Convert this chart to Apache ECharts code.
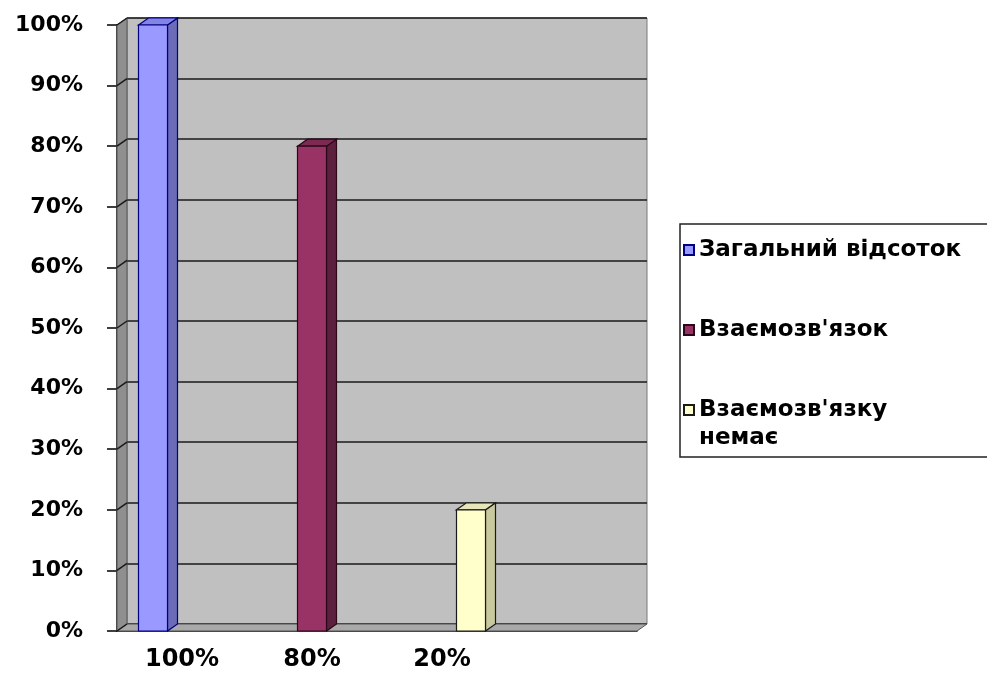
<!DOCTYPE html>
<html>
<head>
<meta charset="utf-8">
<script src="https://cdn.jsdelivr.net/npm/echarts@6/dist/echarts.min.js"></script>
<style>
  html, body { margin: 0; padding: 0; background: #fff; }
  #chart { width: 987px; height: 673px; }
</style>
</head>
<body>
<div id="chart"></div>
<script>
// data
const categories = ["100%", "80%", "20%", ""];
const yTicks = [0, 10, 20, 30, 40, 50, 60, 70, 80, 90, 100];
const seriesNames = ["Загальний відсоток", "Взаємозв'язок", "Взаємозв'язку немає"];
const totalPct = [100, null, null, null];
const linkedPct = [null, 80, null, null];
const notLinkedPct = [null, null, 20, null];

// excel-like 3d look
const DX = 10, DY = 7, BW = 29;
const looks = [
  { front: "#9999ff", side: "#6b6bb8", top: "#8484e6", line: "#000080" },
  { front: "#993366", side: "#5c1f3d", top: "#7d2a53", line: "#2a0818" },
  { front: "#ffffcc", side: "#c9c9a0", top: "#e6e6b8", line: "#1a1a1a" },
];
const FONT = "DejaVu Sans";

const chart = echarts.init(document.getElementById("chart"));

const toPoints = arr => arr.map((v, i) => [i, v]).filter(d => d[1] != null);

const bar3d = idx => (params, api) => {
  const cat = api.value(0);
  const val = api.value(1);
  const base = api.coord([cat, 0]);
  const top = api.coord([cat, val]);
  const cx = base[0] + (idx - 1) * BW;
  const x0 = cx - BW / 2, x1 = cx + BW / 2;
  const yT = top[1], yB = base[1];
  const c = looks[idx];
  const stroke = { stroke: c.line, lineWidth: 1.2 };
  return {
    type: "group",
    children: [
      { type: "polygon", shape: { points: [[x1, yT], [x1 + DX, yT - DY], [x1 + DX, yB - DY], [x1, yB]] },
        style: Object.assign({ fill: c.side }, stroke) },
      { type: "polygon", shape: { points: [[x0, yT], [x0 + DX, yT - DY], [x1 + DX, yT - DY], [x1, yT]] },
        style: Object.assign({ fill: c.top }, stroke) },
      { type: "rect", shape: { x: x0, y: yT, width: BW, height: yB - yT },
        style: Object.assign({ fill: c.front }, stroke) },
    ],
  };
};

const seriesData = [totalPct, linkedPct, notLinkedPct];

const legendText = { color: "#000", fontFamily: FONT, fontWeight: "bold", fontSize: 23, lineHeight: 28 };

const option = {
  animation: false,
  backgroundColor: "#fff",
  grid: [
    // back wall
    { left: 127, right: 340, top: 18, bottom: 49, show: true, backgroundColor: "#c0c0c0", borderColor: "#7a7a7a", borderWidth: 1 },
    // front plane with the axes
    { left: 117, right: 350, top: 25, bottom: 42 },
  ],
  xAxis: [
    { gridIndex: 0, type: "category", data: categories, show: false },
    {
      gridIndex: 1, type: "category", data: categories,
      axisLine: { lineStyle: { color: "#000", width: 1.5 } },
      axisTick: { length: 8, lineStyle: { color: "#000", width: 1.5 } },
      axisLabel: { color: "#000", fontFamily: FONT, fontWeight: "bold", fontSize: 24, margin: 17 },
    },
  ],
  yAxis: [
    {
      gridIndex: 0, type: "value", min: 0, max: 100, interval: 10,
      axisLine: { show: false }, axisTick: { show: false }, axisLabel: { show: false },
      splitLine: { lineStyle: { color: "#1a1a1a", width: 1.6 } },
    },
    {
      gridIndex: 1, type: "value", min: 0, max: 100, interval: 10,
      axisLine: { show: true, lineStyle: { color: "#000", width: 1.5 } },
      axisTick: { show: true, length: 10, lineStyle: { color: "#000", width: 1.5 } },
      axisLabel: { color: "#000", fontFamily: FONT, fontWeight: "bold", fontSize: 22, margin: 34, formatter: "{value}%" },
      splitLine: { show: false },
    },
  ],
  legend: [
    {
      orient: "vertical", left: 683, top: 236, padding: 0, itemGap: 52,
      itemWidth: 10, itemHeight: 10, icon: "rect",
      data: [seriesNames[0], seriesNames[1]],
      textStyle: legendText,
    },
    {
      orient: "vertical", left: 683, top: 368, padding: 0,
      itemWidth: 10, itemHeight: 10, icon: "rect",
      data: [seriesNames[2]],
      // blank first line keeps the icon next to the first line of text
      formatter: () => "\nВзаємозв'язку\nнемає",
      textStyle: legendText,
    },
  ],
  series: seriesData.map((arr, i) => ({
    name: seriesNames[i],
    type: "custom",
    xAxisIndex: 1, yAxisIndex: 1,
    z: 10,
    itemStyle: { color: looks[i].front, borderColor: looks[i].line, borderWidth: 1 },
    renderItem: bar3d(i),
    encode: { x: 0, y: 1 },
    data: toPoints(arr),
  })),
};

chart.setOption(option);

// side wall, floor and the slanted grid stubs on the side wall
const gLeft = 117, gRight = 637;
const yBottom = chart.convertToPixel({ yAxisIndex: 1 }, 0);
const yTop = chart.convertToPixel({ yAxisIndex: 1 }, 100);
const deco = [
  { type: "polygon", z: 1, shape: { points: [[gLeft, yTop], [gLeft + DX, yTop - DY], [gLeft + DX, yBottom - DY], [gLeft, yBottom]] },
    style: { fill: "#8f8f8f", stroke: "#555", lineWidth: 1 } },
  { type: "polygon", z: 1, shape: { points: [[gLeft, yBottom], [gLeft + DX, yBottom - DY], [gRight + DX, yBottom - DY], [gRight, yBottom]] },
    style: { fill: "#a9a9a9", stroke: "#555", lineWidth: 1 } },
  { type: "rect", z: 0, shape: { x: 680, y: 224, width: 330, height: 233 },
    style: { fill: "#fff", stroke: "#222", lineWidth: 1.5 } },
];
yTicks.forEach(t => {
  const y = chart.convertToPixel({ yAxisIndex: 1 }, t);
  deco.push({ type: "line", z: 2, shape: { x1: gLeft, y1: y, x2: gLeft + DX, y2: y - DY },
    style: { stroke: "#1a1a1a", lineWidth: 1.5 } });
});
chart.setOption({ graphic: deco });
</script>
</body>
</html>
